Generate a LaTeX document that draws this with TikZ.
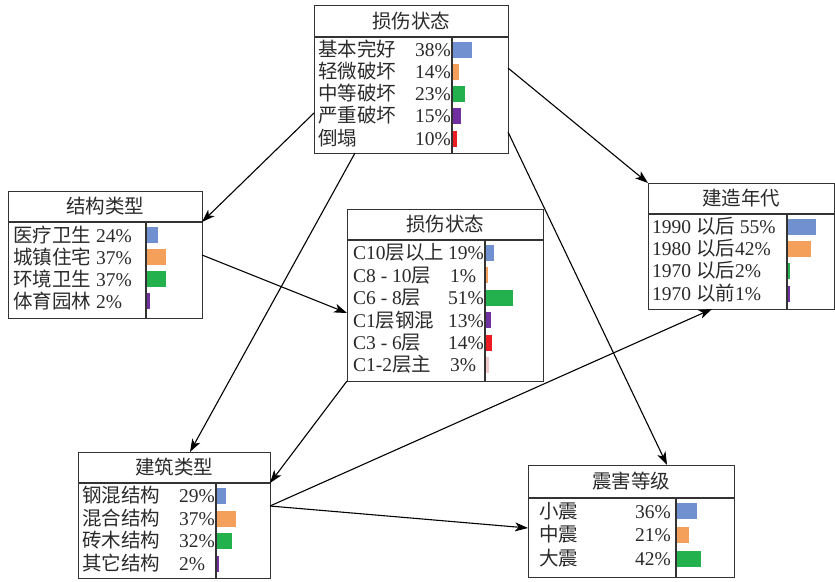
\documentclass[tikz,border=0pt]{standalone}
\usepackage{fontspec}
\setmainfont{Liberation Serif}
\newfontfamily\cjk{Noto Sans CJK SC}
\usetikzlibrary{arrows.meta}
\newcommand\zh[1]{{\cjk #1}}
\definecolor{cblue}{HTML}{7090CF}
\definecolor{corange}{HTML}{F5A05A}
\definecolor{cgreen}{HTML}{22B14C}
\definecolor{cpurple}{HTML}{7030A0}
\definecolor{cred}{HTML}{EC1C24}
\definecolor{cpink}{HTML}{F2CACA}
\definecolor{boxgray}{HTML}{333333}
\definecolor{txt}{HTML}{2A2A2A}
\newcommand\fs{\fontsize{19.5}{22}\selectfont}
\newcommand\mkbox[8]{% name, x1, y1, x2, y2, header y, col x, header text
  \node[boxshape, minimum width={#4-#2}, minimum height={#5-#3}, anchor=north west] (#1) at (#2,#3) {};
  \draw[boxline] (#2,#6) -- (#4,#6);
  \draw[boxline] (#7,#6) -- (#7,#5);
  \node[hdr] (#1h) at ({(#2+#4)/2},{(#3+#6)/2}) {\zh{#8}};
}
\newcommand\mkbar[5]{% name, x, ycenter, width, colour
  \fill[#5] (#2,{#3-8}) rectangle ({#2+#4},{#3+8});
  \coordinate (#1) at (#2,#3);
}
\begin{document}
\begin{tikzpicture}[x=1pt,y=-1pt,
  boxshape/.style={draw=boxgray, line width=1.2pt, inner sep=0pt, rectangle},
  boxline/.style={draw=boxgray, line width=1.2pt},
  hdr/.style={inner sep=0pt, font=\fs, text=txt, anchor=center},
  lbl/.style={inner sep=0pt, font=\fs, text=txt, anchor=base west},
  arr/.style={draw=black, line width=1.1pt, -{Stealth[length=13pt,width=9pt,inset=3.5pt]}}]
\useasboundingbox (0,0) rectangle (835,581);

% ---------- box 1: top
\mkbox{b1}{314}{5}{508}{153}{37}{452}{损伤状态}
\node[lbl] (b1l1) at (318,56) {\zh{基本完好}};
\node[lbl] (b1l2) at (318,78) {\zh{轻微破坏}};
\node[lbl] (b1l3) at (318,100) {\zh{中等破坏}};
\node[lbl] (b1l4) at (318,122.5) {\zh{严重破坏}};
\node[lbl] (b1l5) at (318,145) {\zh{倒塌}};
\node[lbl] (b1p1) at (415,56) {38\%};
\node[lbl] (b1p2) at (415,78) {14\%};
\node[lbl] (b1p3) at (415,100) {23\%};
\node[lbl] (b1p4) at (415,122.5) {15\%};
\node[lbl] (b1p5) at (415,145) {10\%};
\mkbar{b1b1}{453}{49.5}{19}{cblue}
\mkbar{b1b2}{453}{71.5}{6.3}{corange}
\mkbar{b1b3}{453}{93.5}{12.3}{cgreen}
\mkbar{b1b4}{453}{116}{7.7}{cpurple}
\mkbar{b1b5}{453}{138.5}{4}{cred}

% ---------- box 2: 结构类型
\mkbox{b2}{8}{191}{202}{318}{222}{146}{结构类型}
\node[lbl] (b2l1) at (13,242) {\zh{医疗卫生} 24\%};
\node[lbl] (b2l2) at (13,264) {\zh{城镇住宅} 37\%};
\node[lbl] (b2l3) at (13,286) {\zh{环境卫生} 37\%};
\node[lbl] (b2l4) at (13,308) {\zh{体育园林} 2\%};
\mkbar{b2b1}{147}{235}{10.7}{cblue}
\mkbar{b2b2}{147}{257}{19.3}{corange}
\mkbar{b2b3}{147}{279}{19}{cgreen}
\mkbar{b2b4}{147}{301}{2.7}{cpurple}

% ---------- box 3: middle 损伤状态
\mkbox{b3}{347}{209}{543}{381}{240}{485}{损伤状态}
\node[lbl] (b3l1) at (353,259.5) {C10\zh{层以上}};
\node[lbl] (b3l2) at (353,282) {C8 - 10\zh{层}};
\node[lbl] (b3l3) at (353,304.5) {C6 - 8\zh{层}};
\node[lbl] (b3l4) at (353,327) {C1\zh{层钢混}};
\node[lbl] (b3l5) at (353,349) {C3 - 6\zh{层}};
\node[lbl] (b3l6) at (353,371.5) {C1-2\zh{层主}};
\node[lbl] (b3p1) at (448,259.5) {19\%};
\node[lbl] (b3p2) at (450,282) {1\%};
\node[lbl] (b3p3) at (448,304.5) {51\%};
\node[lbl] (b3p4) at (448,327) {13\%};
\node[lbl] (b3p5) at (448,349) {14\%};
\node[lbl] (b3p6) at (450,371.5) {3\%};
\mkbar{b3b1}{486}{253}{7.7}{cblue}
\mkbar{b3b2}{486}{275.4}{2}{corange}
\mkbar{b3b3}{486}{297.8}{26.7}{cgreen}
\mkbar{b3b4}{486}{320.2}{5.3}{cpurple}
\mkbar{b3b5}{486}{342.6}{6}{cred}
\mkbar{b3b6}{486}{365}{2.7}{cpink}

% ---------- box 4: 建造年代
\mkbox{b4}{648}{183}{834}{309}{214}{787}{建造年代}
\node[lbl] (b4l1) at (652,233.5) {1990 \zh{以后} 55\%};
\node[lbl] (b4l2) at (652,255.5) {1980 \zh{以后}42\%};
\node[lbl] (b4l3) at (652,277.5) {1970 \zh{以后}2\%};
\node[lbl] (b4l4) at (652,300.5) {1970 \zh{以前}1\%};
\mkbar{b4b1}{788}{227}{27.7}{cblue}
\mkbar{b4b2}{788}{249}{22.7}{corange}
\mkbar{b4b3}{788}{271}{2}{cgreen}
\mkbar{b4b4}{788}{294}{1.5}{cpurple}

% ---------- box 5: 建筑类型
\mkbox{b5}{78}{452}{270}{578}{483}{216}{建筑类型}
\node[lbl] (b5l1) at (82,502.5) {\zh{钢混结构}};
\node[lbl] (b5l2) at (82,525) {\zh{混合结构}};
\node[lbl] (b5l3) at (82,547.5) {\zh{砖木结构}};
\node[lbl] (b5l4) at (82,570) {\zh{其它结构}};
\node[lbl] (b5p1) at (179,502.5) {29\%};
\node[lbl] (b5p2) at (179,525) {37\%};
\node[lbl] (b5p3) at (179,547.5) {32\%};
\node[lbl] (b5p4) at (179,570) {2\%};
\mkbar{b5b1}{217}{496}{9.3}{cblue}
\mkbar{b5b2}{217}{518.5}{19.3}{corange}
\mkbar{b5b3}{217}{541}{15.3}{cgreen}
\mkbar{b5b4}{217}{563.5}{2}{cpurple}

% ---------- box 6: 震害等级
\mkbox{b6}{528}{465}{734}{577}{498}{676}{震害等级}
\node[lbl] (b6l1) at (539,518) {\zh{小震}};
\node[lbl] (b6l2) at (539,541.5) {\zh{中震}};
\node[lbl] (b6l3) at (539,565) {\zh{大震}};
\node[lbl] (b6p1) at (635,518) {36\%};
\node[lbl] (b6p2) at (635,541.5) {21\%};
\node[lbl] (b6p3) at (635,565) {42\%};
\mkbar{b6b1}{677}{511}{20}{cblue}
\mkbar{b6b2}{677}{535}{11.7}{corange}
\mkbar{b6b3}{677}{559}{24.3}{cgreen}

% ---------- connector end points on the box borders
\coordinate (a1s) at (314,113);  \coordinate (a1e) at (202,222);
\coordinate (a2s) at (355,153);  \coordinate (a2e) at (190,452);
\coordinate (a3s) at (508,68);   \coordinate (a3e) at (648,183);
\coordinate (a4s) at (508,132);  \coordinate (a4e) at (667,465);
\coordinate (a5s) at (202,255);  \coordinate (a5e) at (347,313);
\coordinate (a6s) at (347,381);  \coordinate (a6e) at (270,483);
\coordinate (a7s) at (270,506);  \coordinate (a7e) at (712,309);
\coordinate (a8e) at (528,528);

\draw[arr] (a1s) -- (a1e);
\draw[arr] (a2s) -- (a2e);
\draw[arr] (a3s) -- (a3e);
\draw[arr] (a4s) -- (a4e);
\draw[arr] (a5s) -- (a5e);
\draw[arr] (a6s) -- (a6e);
\draw[arr] (a7s) -- (a7e);
\draw[arr] (a7s) -- (a8e);
\end{tikzpicture}
\end{document}
